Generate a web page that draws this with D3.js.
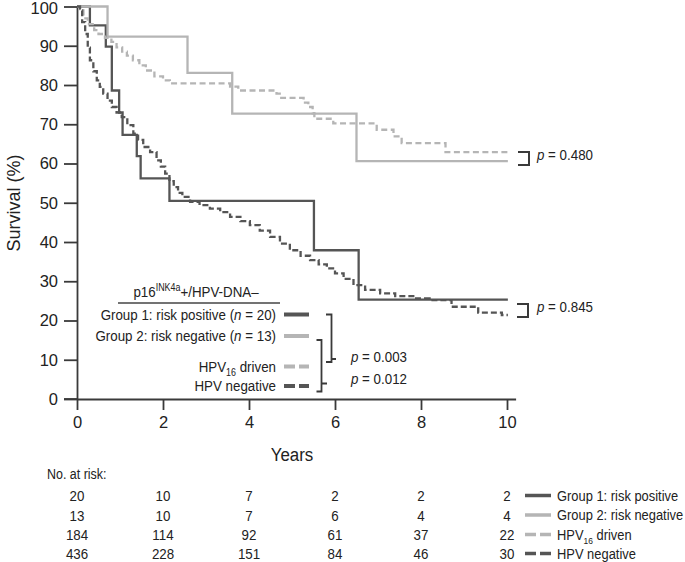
<!DOCTYPE html>
<html><head><meta charset="utf-8">
<script src="https://cdn.jsdelivr.net/npm/d3@7"></script>
<style>
html,body{margin:0;padding:0;background:#fff;}
text{font-family:"Liberation Sans",Arial,Helvetica,sans-serif;}
</style></head>
<body><svg id="c" width="685" height="562"></svg>
<script>
// ---------- data ----------
const seriesNames = ["Group 1: risk positive","Group 2: risk negative","HPV16 driven","HPV negative"];
const g1Times = [0,0.30,0.67,0.81,0.98,1.06,1.39,1.48,2.15,5.51,6.55,10.02];
const g1Surv  = [100,95.2,89.8,78.6,73.0,67.3,61.9,56.2,50.5,37.9,25.3,25.3];
const g2Times = [0,0.71,2.57,3.61,6.50,10.02];
const g2Surv  = [100,92.3,83.1,72.7,60.6,60.6];
const hpv16Times = [0,0.05,0.15,0.25,0.40,0.50,0.65,0.80,0.92,1.05,1.16,1.30,1.45,1.60,1.80,2.00,2.16,3.56,3.75,4.64,4.75,5.27,5.38,5.48,5.52,5.96,6.97,7.36,7.55,8.57,10.02];
const hpv16Surv  = [100,99,97,95.5,94,93,92,91,89.6,88.5,87.5,86.3,85,83.7,82.2,81.2,80.4,79.6,78.6,77.8,76.7,75.5,74.4,72.8,71.4,70.2,68.6,66.9,65.2,62.9,62.9];
const hpvNegTimes = [0,0.07,0.12,0.19,0.25,0.30,0.38,0.46,0.53,0.61,0.71,0.81,0.92,1.04,1.17,1.31,1.42,1.54,1.70,1.85,1.95,2.05,2.15,2.25,2.35,2.45,2.63,2.85,3.09,3.33,3.56,3.80,4.02,4.25,4.49,4.72,4.95,5.20,5.42,5.62,5.81,6.00,6.20,6.43,6.70,7.05,7.40,7.82,8.20,8.71,9.33,9.88,10.02];
const hpvNegSurv  = [100,99,96,93,89.5,86.3,83.5,81.2,79.5,77.8,76,74.4,73,71.8,69.8,67.6,66,64.2,62.9,60.8,59.2,57.4,55.5,54,52.5,51.5,50.2,49.4,48.5,47.6,46.4,45.3,44.3,42.9,41.3,39.6,37.9,36.5,35.4,34.3,33.3,32,30.6,29.0,27.8,26.9,26.2,25.6,25.2,23.5,22.0,21.4,21.4];
const xTicks = [0,2,4,6,8,10];
const yTicks = [0,10,20,30,40,50,60,70,80,90,100];
const riskTimes = [0,2,4,6,8,10];
const riskG1 = [20,10,7,2,2,2];
const riskG2 = [13,10,7,6,4,4];
const riskHpv16 = [184,114,92,61,37,22];
const riskHpvNeg = [436,228,151,84,46,30];
const pValues = ["0.480","0.845","0.003","0.012"];

// ---------- styles ----------
const DARK = "#555555", LIGHT = "#b5b5b5", AXIS = "#3a3a3a";
const series = [
  {t:g1Times, s:g1Surv, color:DARK, dash:null},
  {t:g2Times, s:g2Surv, color:LIGHT, dash:null},
  {t:hpv16Times, s:hpv16Surv, color:LIGHT, dash:"6,3.5"},
  {t:hpvNegTimes, s:hpvNegSurv, color:DARK, dash:"6,3"}
];
const risks = [riskG1, riskG2, riskHpv16, riskHpvNeg];

const svg = d3.select("#c");
const x = d3.scaleLinear().domain([0,10.2]).range([77, 77+43*10.2]);
const y = d3.scaleLinear().domain([0,100]).range([399, 6.5]);
const SX = 0.89;

function T(parent, px, py, str, o={}){
  const t = parent.append("text")
    .attr("transform", `translate(${px},${py}) scale(${o.sx||SX},1)`)
    .attr("font-size", o.size||15)
    .attr("fill", o.fill||"#222")
    .attr("text-anchor", o.anchor||"start");
  if (str!==null) t.text(str);
  return t;
}

// axes
const yAxis = svg.append("g").attr("transform",`translate(${x(0)},0)`)
  .call(d3.axisLeft(y).tickValues(yTicks).tickSize(13).tickSizeOuter(0).tickPadding(6));
const xAxis = svg.append("g").attr("transform",`translate(0,${y(0)})`)
  .call(d3.axisBottom(x).tickValues(xTicks).tickSize(11).tickSizeOuter(0).tickPadding(6));
[yAxis,xAxis].forEach(a=>{
  a.selectAll("path.domain").attr("stroke",AXIS).attr("stroke-width",1.8);
  a.selectAll(".tick line").attr("stroke",AXIS).attr("stroke-width",1.8);
  a.selectAll(".tick text").attr("font-size",16.5).attr("fill","#222")
   .attr("font-family",'"Liberation Sans",Arial,sans-serif');
});
yAxis.selectAll(".tick text").filter(d=>d===100).attr("dy","0.42em");
// x domain extends left to meet y-axis tick length
svg.append("line").attr("x1",x(0)-13).attr("x2",x(0)).attr("y1",y(0)).attr("y2",y(0))
  .attr("stroke",AXIS).attr("stroke-width",1.8);

// axis titles
svg.append("text").attr("transform",`translate(20,203) rotate(-90)`)
  .attr("text-anchor","middle").attr("font-size",18).attr("fill","#222").text("Survival (%)");
T(svg, 292, 461, "Years", {size:19, anchor:"middle"});

// curves
const line = d3.line().x(d=>x(d[0])).y(d=>y(d[1])).curve(d3.curveStepAfter);
series.forEach(s=>{
  const pts = s.t.map((t,i)=>[t,s.s[i]]);
  svg.append("path").datum(pts).attr("d",line)
    .attr("fill","none").attr("stroke",s.color).attr("stroke-width",2.3)
    .attr("stroke-dasharray",s.dash);
});

// right brackets with p-values
function bracketRight(x0, x1, yTop, yBot){
  svg.append("path").attr("d",`M${x0},${yTop}H${x1}V${yBot}H${x0}`)
    .attr("fill","none").attr("stroke",AXIS).attr("stroke-width",2);
}
bracketRight(518, 529, 152, 165);
bracketRight(517, 528, 304, 317);
function pText(px, py, val){
  const t = T(svg, px, py, null, {size:15});
  t.append("tspan").attr("font-style","italic").text("p");
  t.append("tspan").text(" = " + val);
}
pText(537, 160, pValues[0]);
pText(537, 312, pValues[1]);

// inner legend
T(svg, 196, 297, null, {size:15, anchor:"middle"}).call(t=>{
  t.append("tspan").text("p16");
  t.append("tspan").attr("font-size",10).attr("dy",-6).text("INK4a");
  t.append("tspan").attr("dy",6).text("+/HPV-DNA\u2013");
});
svg.append("line").attr("x1",118).attr("x2",280).attr("y1",303).attr("y2",303)
  .attr("stroke","#444").attr("stroke-width",1.3);
const legY = [314.5, 336, 366.5, 386];
T(svg, 276, legY[0]+5, null, {anchor:"end"}).call(t=>{
  t.append("tspan").text("Group 1: risk positive (");
  t.append("tspan").attr("font-style","italic").text("n");
  t.append("tspan").text(" = 20)");
});
T(svg, 276, legY[1]+5, null, {anchor:"end"}).call(t=>{
  t.append("tspan").text("Group 2: risk negative (");
  t.append("tspan").attr("font-style","italic").text("n");
  t.append("tspan").text(" = 13)");
});
T(svg, 276, legY[2]+5, null, {anchor:"end"}).call(t=>{
  t.append("tspan").text("HPV");
  t.append("tspan").attr("font-size",10).attr("dy",4).text("16");
  t.append("tspan").attr("dy",-4).text(" driven");
});
T(svg, 276, legY[3]+5, "HPV negative", {anchor:"end"});
series.forEach((s,i)=>{
  svg.append("line").attr("x1",284).attr("x2",309).attr("y1",legY[i]).attr("y2",legY[i])
    .attr("stroke",s.color).attr("stroke-width",4)
    .attr("stroke-dasharray", s.dash ? "11,4" : null);
});
// inner brackets
function bracketInner(xl, xv, yTop, yBot, yTick, xTick){
  svg.append("path").attr("d",`M${xl},${yTop}H${xv}V${yBot}H${xl}M${xv},${yTick}H${xTick}`)
    .attr("fill","none").attr("stroke",AXIS).attr("stroke-width",1.8);
}
bracketInner(326, 331.5, 314.5, 362, 359, 336);
bracketInner(316.5, 321.5, 340, 391.5, 383.5, 327);
pText(351, 362, pValues[2]);
pText(351, 383.5, pValues[3]);

// at risk table
T(svg, 47, 479, "No. at risk:", {size:14});
const rowY = [495.5, 515, 534.5, 553.5];
risks.forEach((r,i)=>{
  r.forEach((v,j)=>{
    T(svg, x(riskTimes[j]), rowY[i]+5.5, String(v), {size:15, anchor:"middle"});
  });
  svg.append("line").attr("x1",525).attr("x2",551).attr("y1",rowY[i]).attr("y2",rowY[i])
    .attr("stroke",series[i].color).attr("stroke-width",3.5)
    .attr("stroke-dasharray", series[i].dash ? "11,4" : null);
});
T(svg, 557, rowY[0]+5, seriesNames[0], {size:14.5});
T(svg, 557, rowY[1]+5, seriesNames[1], {size:14.5});
T(svg, 557, rowY[2]+5, null, {size:14.5}).call(t=>{
  t.append("tspan").text("HPV");
  t.append("tspan").attr("font-size",9.5).attr("dy",4).text("16");
  t.append("tspan").attr("dy",-4).text(" driven");
});
T(svg, 557, rowY[3]+5, seriesNames[3], {size:14.5});
</script></body></html>
